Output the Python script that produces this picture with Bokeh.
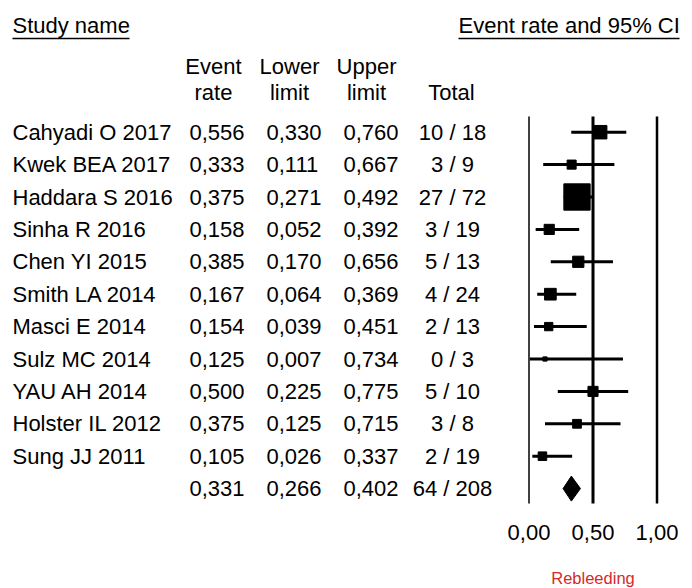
import numpy as np
from bokeh.plotting import figure
from bokeh.models import Range1d, ColumnDataSource
from bokeh.core.properties import value
from bokeh.embed import file_html
from bokeh.resources import INLINE

# ---- study data -------------------------------------------------------
studies = ["Cahyadi O 2017", "Kwek BEA 2017", "Haddara S 2016", "Sinha R 2016",
           "Chen YI 2015", "Smith LA 2014", "Masci E 2014", "Sulz MC 2014",
           "YAU AH 2014", "Holster IL 2012", "Sung JJ 2011"]
event_rate = [0.556, 0.333, 0.375, 0.158, 0.385, 0.167, 0.154, 0.125, 0.500, 0.375, 0.105]
lower_limit = [0.330, 0.111, 0.271, 0.052, 0.170, 0.064, 0.039, 0.007, 0.225, 0.125, 0.026]
upper_limit = [0.760, 0.667, 0.492, 0.392, 0.656, 0.369, 0.451, 0.734, 0.775, 0.715, 0.337]
events = [10, 3, 27, 3, 5, 4, 2, 0, 5, 3, 2]
totals = [18, 9, 72, 19, 13, 24, 13, 3, 10, 8, 19]

pooled_rate, pooled_lower, pooled_upper = 0.331, 0.266, 0.402
pooled_events, pooled_total = 64, 208

axis_ticks = [0.0, 0.5, 1.0]
tick_labels = ["0,00", "0,50", "1,00"]
axis_title = "Rebleeding"

# ---- layout (page pixels) --------------------------------------------
W, H = 692, 588
PLOT_TOP, PLOT_BOTTOM = 116, 503       # vertical extent of the reference lines
ROW_TOP, ROW_PITCH = 131.7, 32.4
X0_PX, UNIT_PX = 528.5, 128.0          # where rate 0 sits, pixels per unit rate
FONT = value("Liberation Sans")
FS = "22px"

n = len(studies)
row_y = [ROW_TOP + ROW_PITCH * i for i in range(n)]
pooled_y = ROW_TOP + ROW_PITCH * n


def fmt(v):
    return f"{v:.3f}".replace(".", ",")


# marker side from inverse-variance (logit) weight, 0.5 correction for zero cells
weights = []
for e, t in zip(events, totals):
    a, b = (e, t - e) if 0 < e < t else (e + 0.5, t - e + 0.5)
    weights.append(1.0 / (1.0 / a + 1.0 / b))
marker_side = [6.4 * np.sqrt(w) for w in weights]

p = figure(width=W, height=H, output_backend="svg", toolbar_location=None,
           x_range=Range1d(0, W), y_range=Range1d(H, 0),
           x_axis_type=None, y_axis_type=None,
           min_border_left=0, min_border_right=0, min_border_top=0, min_border_bottom=0)
p.outline_line_color = None
p.grid.visible = False
p.background_fill_color = "white"
p.border_fill_color = "white"

p.extra_x_ranges = {"rate": Range1d(-X0_PX / UNIT_PX, (W - X0_PX) / UNIT_PX)}

# ---- headers ---------------------------------------------------------
p.text(x=[12, 458], y=[25, 25], text=["Study name", "Event rate and 95% CI"],
       text_font=FONT, text_font_size=FS, text_baseline="middle", text_align="left",
       text_color="black")
p.segment(x0=[12, 458], y0=[38, 38], x1=[129, 679], y1=[38, 38],
          line_color="black", line_width=1.5)

head_x = [213, 289, 366, 451]
p.text(x=head_x[:3], y=[66] * 3, text=["Event", "Lower", "Upper"],
       text_font=FONT, text_font_size=FS, text_baseline="middle", text_align="center",
       text_color="black")
p.text(x=head_x, y=[92] * 4, text=["rate", "limit", "limit", "Total"],
       text_font=FONT, text_font_size=FS, text_baseline="middle", text_align="center",
       text_color="black")

# ---- table rows ------------------------------------------------------
tbl = ColumnDataSource(dict(
    y=row_y + [pooled_y],
    name=studies + [""],
    rate=[fmt(v) for v in event_rate] + [fmt(pooled_rate)],
    lo=[fmt(v) for v in lower_limit] + [fmt(pooled_lower)],
    hi=[fmt(v) for v in upper_limit] + [fmt(pooled_upper)],
    tot=[f"{e} / {t}" for e, t in zip(events, totals)] + [f"{pooled_events} / {pooled_total}"],
))
for col, xpos, align in [("name", 12, "left"), ("rate", 189, "left"), ("lo", 266, "left"),
                         ("hi", 343, "left"), ("tot", 452, "center")]:
    p.text(x=xpos, y="y", text=col, source=tbl, text_font=FONT, text_font_size=FS,
           text_baseline="middle", text_align=align, text_color="black")

# ---- forest plot -----------------------------------------------------
p.segment(x0=axis_ticks, y0=PLOT_TOP, x1=axis_ticks, y1=PLOT_BOTTOM, x_range_name="rate",
          line_color="black", line_width=[1.5, 3, 2.5])

forest = ColumnDataSource(dict(y=row_y, rate=event_rate, lo=lower_limit, hi=upper_limit,
                               side=marker_side))
p.segment(x0="lo", y0="y", x1="hi", y1="y", source=forest, x_range_name="rate",
          line_color="black", line_width=3)
p.scatter(x="rate", y="y", size="side", marker="square", source=forest,
          x_range_name="rate", color="black")

p.patch(x=[pooled_lower, pooled_rate, pooled_upper, pooled_rate],
        y=[pooled_y, pooled_y - 12.5, pooled_y, pooled_y + 12.5],
        x_range_name="rate", color="black")

# scale labels and title under the rate scale
p.text(x=axis_ticks, y=[532] * len(axis_ticks), text=tick_labels, x_range_name="rate",
       text_font=FONT, text_font_size=FS, text_baseline="middle", text_align="center",
       text_color="black")
p.text(x=[0.5], y=[577], text=[axis_title], x_range_name="rate",
       text_font=FONT, text_font_size="16.5px", text_baseline="middle", text_align="center",
       text_color="#d42a2a")

open("out.html", "w").write(file_html(p, INLINE))
